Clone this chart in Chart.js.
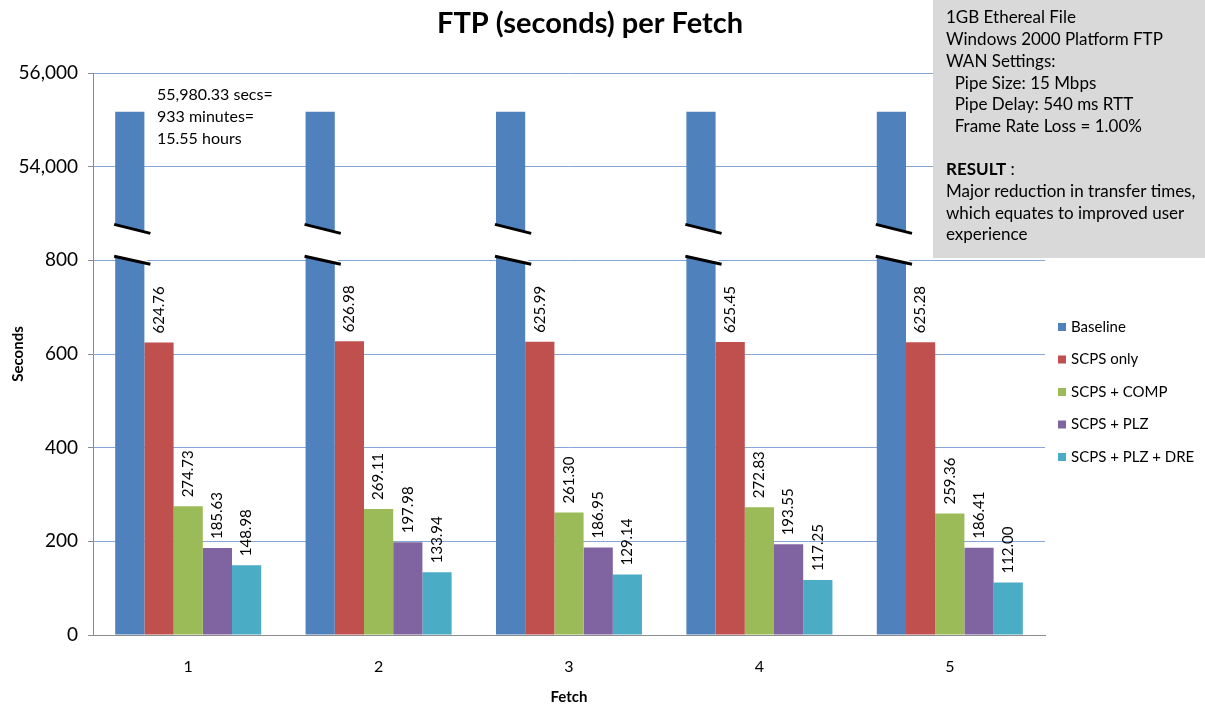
<!DOCTYPE html>
<html>
<head>
<meta charset="utf-8">
<script src="https://cdn.jsdelivr.net/npm/chart.js@4"></script>
<style>
  html, body { margin: 0; padding: 0; background: #fff; }
  #wrap { width: 1205px; height: 706px; }
</style>
</head>
<body>
<div id="wrap"><canvas id="ftpChart" width="1205" height="706"></canvas></div>
<script>
// Données
const fetches = ['1', '2', '3', '4', '5'];
const seriesNames = ['Baseline', 'SCPS only', 'SCPS + COMP', 'SCPS + PLZ', 'SCPS + PLZ + DRE'];
const seriesColors = ['#4f81bd', '#c0504d', '#9bbb59', '#8064a2', '#4bacc6'];
// hauteur dessinée des barres Baseline (axe coupé)
const baseline = [55170, 55170, 55170, 55170, 55170];
const scpsOnly = [624.76, 626.98, 625.99, 625.45, 625.28];
const scpsComp = [274.73, 269.11, 261.30, 272.83, 259.36];
const scpsPlz = [185.63, 197.98, 186.95, 193.55, 186.41];
const scpsPlzDre = [148.98, 133.94, 129.14, 117.25, 112.00];
const yTicks = [0, 200, 400, 600, 800, 54000, 56000];

const noteLines = ['55,980.33 secs=', '933 minutes=', '15.55 hours'];
const boxLines = [
    ['1GB Ethereal File', false],
    ['Windows 2000 Platform FTP', false],
    ['WAN Settings:', false],
    ['  Pipe Size: 15 Mbps', false],
    ['  Pipe Delay: 540 ms RTT', false],
    ['  Frame Rate Loss = 1.00%', false],
    ['', false],
    ['RESULT', true],
    ['Major reduction in transfer times,', false],
    ['which equates to improved user', false],
    ['experience', false]
];

const FONT = 'Lato, "Open Sans", sans-serif';

// Axe coupé : 0-800 puis 54 000-56 000, chaque pas de graduation a la même hauteur
function toAxis(v) {
    return v <= 800 ? v : 1000 + (v - 54000) / 10;
}
function fromAxis(a) {
    return a <= 800 ? a : 54000 + (a - 1000) * 10;
}

const allSeries = [baseline, scpsOnly, scpsComp, scpsPlz, scpsPlzDre];

const extras = {
    id: 'extras',
    beforeDraw(chart) {
        const ctx = chart.ctx;
        ctx.save();
        ctx.fillStyle = '#fff';
        ctx.fillRect(0, 0, chart.width, chart.height);
        ctx.restore();
    },
    afterDatasetsDraw(chart) {
        const ctx = chart.ctx;
        const y = chart.scales.y;
        const y800 = y.getPixelForValue(800);
        ctx.save();

        // coupure sur les barres Baseline
        chart.getDatasetMeta(0).data.forEach(bar => {
            const x0 = bar.x - bar.width / 2;
            const x1 = bar.x + bar.width / 2;
            ctx.fillStyle = '#fff';
            ctx.beginPath();
            ctx.moveTo(x0 - 2, y800 - 36);
            ctx.lineTo(x1 + 3, y800 - 27);
            ctx.lineTo(x1 + 3, y800 + 4);
            ctx.lineTo(x0 - 2, y800 - 4);
            ctx.closePath();
            ctx.fill();
            ctx.strokeStyle = '#000';
            ctx.lineWidth = 3;
            ctx.beginPath();
            ctx.moveTo(x0 - 1, y800 - 36);
            ctx.lineTo(x1 + 6, y800 - 27);
            ctx.moveTo(x0 - 1, y800 - 4);
            ctx.lineTo(x1 + 6, y800 + 4);
            ctx.stroke();
        });

        // étiquettes verticales
        ctx.fillStyle = '#000';
        ctx.font = '15px ' + FONT;
        ctx.textAlign = 'left';
        ctx.textBaseline = 'middle';
        for (let d = 1; d < allSeries.length; d++) {
            chart.getDatasetMeta(d).data.forEach((bar, i) => {
                ctx.save();
                ctx.translate(bar.x, bar.y - 9);
                ctx.rotate(-Math.PI / 2);
                ctx.fillText(allSeries[d][i].toFixed(2), 0, 0);
                ctx.restore();
            });
        }

        // note Baseline
        ctx.font = '16px ' + FONT;
        ctx.textBaseline = 'middle';
        noteLines.forEach((t, i) => ctx.fillText(t, 157, 95 + i * 22));

        // encadré
        ctx.fillStyle = '#d9d9d9';
        ctx.fillRect(933, 0, 272, 258);
        ctx.fillStyle = '#000';
        boxLines.forEach((l, i) => {
            const ty = 18 + i * 21.7;
            if (l[1]) {
                ctx.font = 'bold 17px ' + FONT;
                ctx.fillText(l[0], 946, ty);
                const w = ctx.measureText(l[0]).width;
                ctx.font = '17px ' + FONT;
                ctx.fillText(' :', 946 + w, ty);
            } else {
                ctx.font = '17px ' + FONT;
                ctx.fillText(l[0], 946, ty);
            }
        });

        // titre
        ctx.font = 'bold 29px ' + FONT;
        ctx.textAlign = 'center';
        ctx.fillText('FTP (seconds) per Fetch', 590, 24);

        // légende
        ctx.font = '15px ' + FONT;
        ctx.textAlign = 'left';
        seriesNames.forEach((n, i) => {
            const ly = 327 + i * 32.5;
            ctx.fillStyle = seriesColors[i];
            ctx.fillRect(1058, ly - 4, 8, 8);
            ctx.fillStyle = '#000';
            ctx.fillText(n, 1071, ly);
        });
        ctx.restore();
    }
};

new Chart(document.getElementById('ftpChart'), {
    type: 'bar',
    data: {
        labels: fetches,
        datasets: allSeries.map((s, i) => ({
            label: seriesNames[i],
            data: s.map(toAxis),
            backgroundColor: seriesColors[i],
            borderWidth: 0
        }))
    },
    options: {
        responsive: false,
        animation: false,
        layout: { padding: { top: 73, right: 160, left: 0, bottom: 0 } },
        datasets: { bar: { categoryPercentage: 0.767, barPercentage: 1 } },
        plugins: { legend: { display: false }, tooltip: { enabled: false } },
        scales: {
            x: {
                grid: { display: false },
                border: { color: '#8c8c8c' },
                ticks: { color: '#000', font: { family: FONT, size: 16 }, padding: 14 },
                title: { display: true, text: 'Fetch', color: '#000', font: { family: FONT, size: 15, weight: 'bold' }, padding: { top: 4, bottom: 0 } },
                afterFit(scale) { scale.height = 71; }
            },
            y: {
                min: 0,
                max: 1200,
                afterBuildTicks(scale) {
                    scale.ticks = yTicks.map(v => ({ value: toAxis(v) }));
                },
                grid: { color: '#86a6d4', tickColor: '#8c8c8c', tickLength: 5 },
                border: { color: '#8c8c8c' },
                ticks: {
                    color: '#000',
                    font: { family: FONT, size: 19 },
                    padding: 10,
                    callback: v => fromAxis(v).toLocaleString('en-US')
                },
                title: { display: true, text: 'Seconds', color: '#000', font: { family: FONT, size: 15, weight: 'bold' }, padding: { top: 9, bottom: 0 } },
                afterFit(scale) { scale.width = 93; }
            }
        }
    },
    plugins: [extras]
});
</script>
</body>
</html>
